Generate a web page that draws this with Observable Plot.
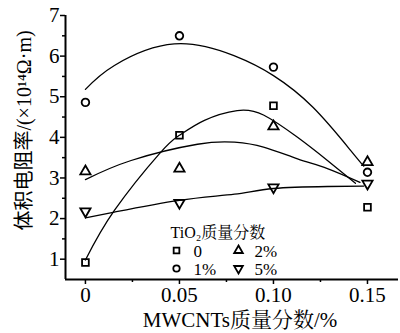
<!DOCTYPE html>
<html><head><meta charset="utf-8">
<script src="https://cdn.jsdelivr.net/npm/d3@7"></script>
<script src="https://cdn.jsdelivr.net/npm/@observablehq/plot@0.6"></script>
<style>
body{margin:0;background:#fff} svg{display:block}
#chart svg text{font-family:"Liberation Serif","Noto Serif CJK SC",serif !important}
#chart svg g.ylabel text{font-family:"Liberation Serif","Noto Sans CJK SC",serif !important}
</style>
</head><body><div id="chart"></div>
<script>
// MWCNTs mass fraction (%)
const mwcnts = [0, 0.05, 0.10, 0.15];
// TiO2 mass fraction series
const seriesNames = ["0", "1%", "2%", "5%"];
// volume resistivity (×10^14 Ω·m)
const tio2_0 = [0.92, 4.05, 4.78, 2.28];
const tio2_1 = [4.86, 6.50, 5.73, 3.14];
const tio2_2 = [3.16, 3.23, 4.27, 3.39];
const tio2_5 = [2.18, 2.39, 2.77, 2.86];

// fitted curves
const fit0x = [0, 0.0154, 0.0394, 0.05, 0.0633, 0.0807, 0.0947, 0.1128, 0.1287, 0.1436];
const fit0y = [0.98, 2.20, 3.60, 4.05, 4.42, 4.66, 4.55, 4.00, 3.43, 2.87];
const fit1x = [0, 0.0154, 0.0473, 0.079, 0.10, 0.121, 0.141, 0.148];
const fit1y = [5.18, 5.77, 6.30, 6.01, 5.52, 4.74, 3.68, 3.29];
const fit2x = [0, 0.0243, 0.0596, 0.0793, 0.0947, 0.1128, 0.1287, 0.146];
const fit2y = [2.96, 3.43, 3.83, 3.88, 3.76, 3.47, 3.23, 2.89];
const fit5x = [0, 0.0154, 0.05, 0.0793, 0.10, 0.1287, 0.148];
const fit5y = [2.02, 2.16, 2.45, 2.60, 2.74, 2.79, 2.80];

const xTicks = [0, 0.05, 0.10, 0.15];
const xTickLabels = ["0", "0.05", "0.10", "0.15"];
const xMinorTicks = [0.025, 0.075, 0.125];
const yTicks = [1, 2, 3, 4, 5, 6, 7];
const yMinorTicks = [1.5, 2.5, 3.5, 4.5, 5.5, 6.5];

const legendTitle = "TiO₂质量分数";
const xLabel = "MWCNTs质量分数/%";
const yLabel = "体积电阻率/(×10¹⁴Ω·m)";

const values = [tio2_0, tio2_1, tio2_2, tio2_5];
const fitsX = [fit0x, fit1x, fit2x, fit5x];
const fitsY = [fit0y, fit1y, fit2y, fit5y];

const points = seriesNames.flatMap((s, i) => mwcnts.map((x, j) => ({series: s, x, y: values[i][j]})));
const fits = seriesNames.flatMap((s, i) => fitsX[i].map((x, j) => ({series: s, x, y: fitsY[i][j]})));

const triDown = {
  draw(ctx, size) {
    const y = -Math.sqrt(size / (Math.sqrt(3) * 3));
    ctx.moveTo(0, -y * 2);
    ctx.lineTo(-Math.sqrt(3) * y, y);
    ctx.lineTo(Math.sqrt(3) * y, y);
    ctx.closePath();
  }
};
const symbolRange = [d3.symbolSquare, d3.symbolCircle, d3.symbolTriangle, triDown];

const xDomain = [-0.0106, 0.1665];
const yDomain = [0.5, 7];
const serifFont = '"Liberation Serif","Noto Serif CJK SC",serif';
const sansCjkFont = '"Liberation Serif","Noto Sans CJK SC",serif';

const legendMarks = seriesNames.flatMap((s, i) => {
  const col = Math.floor(i / 2), row = i % 2;
  return [
    Plot.dot([s], {frameAnchor: "bottom-left", dx: 111 + col * 62, dy: -29 + row * 18, symbol: d => d, r: 3.2, stroke: "black", strokeWidth: 1.8, fill: "none"}),
    Plot.text([s], {frameAnchor: "bottom-left", dx: 128 + col * 61, dy: -28 + row * 18, text: d => d, textAnchor: "start", lineAnchor: "middle", fontSize: 17, fill: "black"})
  ];
});

const chart = Plot.plot({
  width: 400,
  height: 333,
  marginLeft: 65,
  marginRight: 2,
  marginTop: 15,
  marginBottom: 54,
  style: {background: "white", color: "black"},
  x: {type: "linear", domain: xDomain, axis: null},
  y: {type: "linear", domain: yDomain, axis: null},
  symbol: {domain: seriesNames, range: symbolRange},
  marks: [
    Plot.line(fits, {x: "x", y: "y", z: "series", curve: "natural", stroke: "black", strokeWidth: 1.3}),
    Plot.dot(points, {x: "x", y: "y", symbol: "series", r: 3.8, stroke: "black", strokeWidth: 1.8, fill: "none"}),
    // axes
    Plot.ruleX([xDomain[0]], {stroke: "black", strokeWidth: 2}),
    Plot.ruleY([yDomain[0]], {stroke: "black", strokeWidth: 2}),
    Plot.axisY(yTicks, {label: null, tickSize: 5, tickPadding: 1, fontSize: 21, stroke: "black", strokeWidth: 1.5, tickFormat: d => String(d)}),
    Plot.axisY(yMinorTicks, {label: null, tickSize: 3, text: null, stroke: "black", strokeWidth: 1.5}),
    Plot.axisX(xTicks, {label: null, tickSize: 5, tickPadding: 3, fontSize: 21, stroke: "black", strokeWidth: 1.5, tickFormat: (d, i) => xTickLabels[i]}),
    Plot.axisX(xMinorTicks, {label: null, tickSize: 3, text: null, stroke: "black", strokeWidth: 1.5}),
    Plot.text([xLabel], {frameAnchor: "bottom", dy: 41, dx: 8, lineAnchor: "middle", textAnchor: "middle", fontSize: 21, fill: "black"}),
    Plot.text([yLabel], {frameAnchor: "left", dx: -41, dy: -17, rotate: -90, textAnchor: "middle", lineAnchor: "middle", fontSize: 20, fill: "black", className: "ylabel"}),
    // legend
    Plot.text([legendTitle], {frameAnchor: "bottom-left", dx: 105, dy: -47, textAnchor: "start", lineAnchor: "middle", fontSize: 16, fill: "black"}),
    ...legendMarks
  ]
});
chart.removeAttribute("font-family");
chart.querySelectorAll("g").forEach(g => g.removeAttribute("font-family"));
chart.querySelectorAll("text").forEach(t => t.setAttribute("font-family", serifFont));
chart.querySelectorAll(".ylabel text").forEach(t => t.setAttribute("font-family", sansCjkFont));
document.getElementById("chart").append(chart);
</script>
</body></html>
